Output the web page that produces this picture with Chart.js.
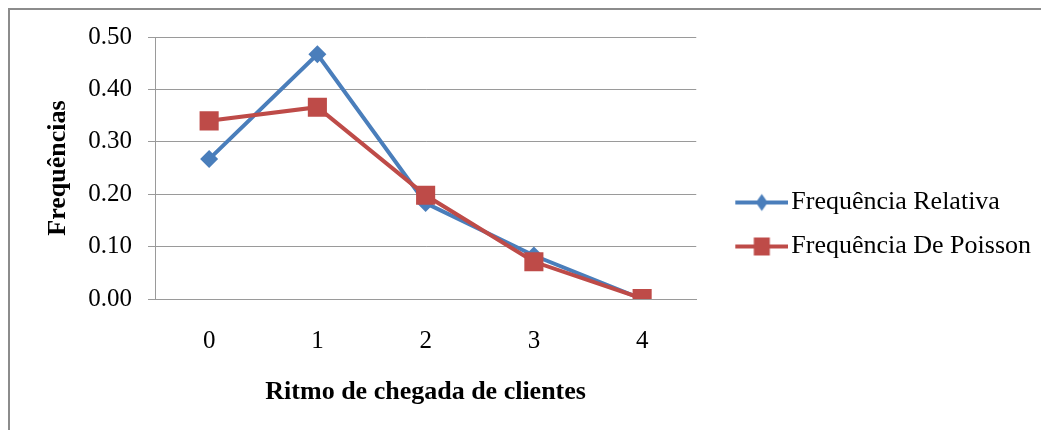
<!DOCTYPE html>
<html>
<head>
<meta charset="utf-8">
<script src="https://cdn.jsdelivr.net/npm/chart.js@4.4.0/dist/chart.umd.min.js"></script>
<style>
  body { margin: 0; background: #fff; }
  #moldura { position: absolute; left: 8px; top: 8px; width: 1100px; height: 500px;
             border-left: 2px solid #8c8c8c; border-top: 2px solid #8c8c8c; }
  #caixa { position: absolute; left: 0; top: 0; width: 1041px; height: 430px; }
</style>
</head>
<body>
<div id="moldura"></div>
<div id="caixa"><canvas id="graficoFrequencias" width="1041" height="430"></canvas></div>
<script>
// dados do gráfico
var ritmos = ['0', '1', '2', '3', '4'];
var frequenciaRelativa = [0.267, 0.467, 0.183, 0.083, 0.0];
var frequenciaPoisson = [0.340, 0.366, 0.198, 0.071, 0.001];
var nomesSeries = ['Frequência Relativa', 'Frequência De Poisson'];
var coresSeries = ['#4a7ebb', '#be4b48'];

var fonteSerif = '"Liberation Serif", "Times New Roman", serif';

// simbolo da legenda: linha com o marcador no meio
function simboloLegenda(cor, forma) {
  var c = document.createElement('canvas');
  c.width = 84; c.height = 26;
  var g = c.getContext('2d');
  g.strokeStyle = cor; g.fillStyle = cor; g.lineWidth = 4;
  g.beginPath(); g.moveTo(31, 13); g.lineTo(84, 13); g.stroke();
  if (forma === 'losango') {
    g.beginPath(); g.moveTo(57.5, 4.5); g.lineTo(63.5, 13); g.lineTo(57.5, 21.5); g.lineTo(51.5, 13); g.closePath(); g.fill();
  } else {
    g.fillRect(49.5, 4, 16, 18);
  }
  return c;
}
var simbolos = [simboloLegenda(coresSeries[0], 'losango'), simboloLegenda(coresSeries[1], 'quadrado')];

var ctx = document.getElementById('graficoFrequencias').getContext('2d');
new Chart(ctx, {
  type: 'line',
  data: {
    labels: ritmos,
    datasets: [
      {
        label: nomesSeries[0],
        data: frequenciaRelativa,
        borderColor: coresSeries[0],
        backgroundColor: coresSeries[0],
        borderWidth: 4,
        pointStyle: 'rectRot',
        pointRadius: 9,
        pointBorderWidth: 0,
        order: 1
      },
      {
        label: nomesSeries[1],
        data: frequenciaPoisson,
        borderColor: coresSeries[1],
        backgroundColor: coresSeries[1],
        borderWidth: 4,
        pointStyle: 'rect',
        pointRadius: 13.5,
        pointBorderWidth: 0,
        order: 0
      }
    ]
  },
  options: {
    responsive: false,
    animation: false,
    layout: { padding: { left: 30, top: 37, right: 0, bottom: 18 } },
    plugins: {
      tooltip: { enabled: false },
      legend: {
        position: 'right',
        maxWidth: 346,
        labels: {
          usePointStyle: true,
          pointStyleWidth: 64,
          padding: 18,
          color: '#000',
          font: { family: fonteSerif, size: 26 },
          generateLabels: function (chart) {
            var itens = Chart.defaults.plugins.legend.labels.generateLabels(chart);
            itens.sort(function (a, b) { return a.datasetIndex - b.datasetIndex; });
            itens.forEach(function (it) { it.pointStyle = simbolos[it.datasetIndex]; });
            return itens;
          }
        }
      }
    },
    scales: {
      x: {
        offset: true,
        grid: { display: false, drawTicks: false },
        border: { color: '#9a9a9a', width: 1 },
        ticks: { color: '#000', padding: 27, font: { family: fonteSerif, size: 25 } },
        title: {
          display: true,
          text: 'Ritmo de chegada de clientes',
          color: '#000',
          padding: { top: 0, bottom: 4 },
          font: { family: fonteSerif, size: 26, weight: 'bold' }
        },
        afterFit: function (escala) { escala.height = 113; }
      },
      y: {
        min: 0,
        max: 0.5,
        ticks: {
          stepSize: 0.1,
          color: '#000',
          padding: 16,
          font: { family: fonteSerif, size: 25 },
          callback: function (v) { return v.toFixed(2); }
        },
        grid: { color: '#9a9a9a', lineWidth: 1, tickLength: 7 },
        border: { color: '#9a9a9a', width: 1 },
        title: {
          display: true,
          text: 'Frequências',
          color: '#000',
          padding: { top: 13, bottom: 0 },
          font: { family: fonteSerif, size: 26, weight: 'bold' }
        },
        afterFit: function (escala) { escala.width = 125; }
      }
    }
  }
});
</script>
</body>
</html>
